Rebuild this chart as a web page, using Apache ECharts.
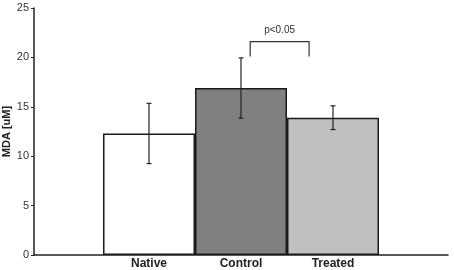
<!DOCTYPE html>
<html>
<head>
<meta charset="utf-8">
<script src="https://cdn.jsdelivr.net/npm/echarts@6/dist/echarts.min.js"></script>
<style>
  html, body { margin: 0; padding: 0; background: #fff; }
  #chart { width: 454px; height: 270px; }
</style>
</head>
<body>
<div id="chart"></div>
<script>
// groups, means and SD
const groups = ['Native', 'Control', 'Treated'];
const groupPos = [1.25, 2.25, 3.25];
const means = [12.3, 16.9, 13.9];
const sds = [3.05, 3.05, 1.2];
const yTicks = [0, 5, 10, 15, 20, 25];

const fills = ['#ffffff', '#808080', '#c0c0c0'];
const font = 'Liberation Sans, Arial, sans-serif';

// significance bracket between Control and Treated
const bracket = { x0: 2.35, x1: 2.99, top: 21.6, foot: 20.1, text: 'p<0.05' };

const chart = echarts.init(document.getElementById('chart'));

chart.setOption({
  animation: false,
  grid: { left: 34, right: 6, top: 8, bottom: 15, outerBoundsMode: 'none', containLabel: false },
  xAxis: {
    type: 'value',
    min: 0,
    max: 4.5,
    interval: 0.25,
    splitLine: { show: false },
    axisTick: { show: false },
    axisLine: { show: true, lineStyle: { color: '#222', width: 1.5 } },
    axisLabel: {
      margin: 3,
      fontFamily: font,
      fontSize: 12,
      fontWeight: 'bold',
      color: '#222',
      formatter: (v) => {
        const i = groupPos.indexOf(v);
        return i >= 0 ? groups[i] : '';
      },
    },
  },
  yAxis: {
    type: 'value',
    min: yTicks[0],
    max: yTicks[yTicks.length - 1],
    interval: 5,
    name: 'MDA [uM]',
    nameLocation: 'middle',
    nameGap: 22,
    nameMoveOverlap: false,
    nameTextStyle: { fontFamily: font, fontSize: 11, fontWeight: 'bold', color: '#222' },
    splitLine: { show: false },
    axisLine: { show: true, lineStyle: { color: '#222', width: 1.5 } },
    axisTick: { show: true, length: 3, lineStyle: { color: '#222' } },
    axisLabel: { margin: 5, fontFamily: font, fontSize: 11, color: '#333' },
  },
  series: [
    {
      type: 'bar',
      barWidth: 92,
      data: groups.map((g, i) => ({
        value: [groupPos[i], means[i]],
        itemStyle: { color: fills[i], borderColor: '#1a1a1a', borderWidth: 1.5 },
      })),
      z: 2,
    },
    {
      type: 'custom',
      z: 3,
      data: groups.map((g, i) => [groupPos[i], means[i] - sds[i], means[i] + sds[i]]),
      renderItem: (params, api) => {
        const lo = api.coord([api.value(0), api.value(1)]);
        const hi = api.coord([api.value(0), api.value(2)]);
        const style = { stroke: '#222', lineWidth: 1.2 };
        const cap = 2.5;
        return {
          type: 'group',
          children: [
            { type: 'line', shape: { x1: lo[0], y1: lo[1], x2: hi[0], y2: hi[1] }, style },
            { type: 'line', shape: { x1: hi[0] - cap, y1: hi[1], x2: hi[0] + cap, y2: hi[1] }, style },
            { type: 'line', shape: { x1: lo[0] - cap, y1: lo[1], x2: lo[0] + cap, y2: lo[1] }, style },
          ],
        };
      },
    },
    {
      type: 'custom',
      z: 3,
      data: [[bracket.x0, bracket.x1, bracket.top, bracket.foot]],
      renderItem: (params, api) => {
        const a = api.coord([api.value(0), api.value(3)]);
        const b = api.coord([api.value(0), api.value(2)]);
        const c = api.coord([api.value(1), api.value(2)]);
        const d = api.coord([api.value(1), api.value(3)]);
        return {
          type: 'group',
          children: [
            {
              type: 'polyline',
              shape: { points: [a, b, c, d] },
              style: { stroke: '#333', lineWidth: 1.2, fill: null },
            },
            {
              type: 'text',
              style: {
                text: bracket.text,
                x: (b[0] + c[0]) / 2,
                y: b[1] - 6,
                align: 'center',
                verticalAlign: 'bottom',
                font: '10px ' + font,
                fill: '#333',
              },
            },
          ],
        };
      },
    },
  ],
});
</script>
</body>
</html>
